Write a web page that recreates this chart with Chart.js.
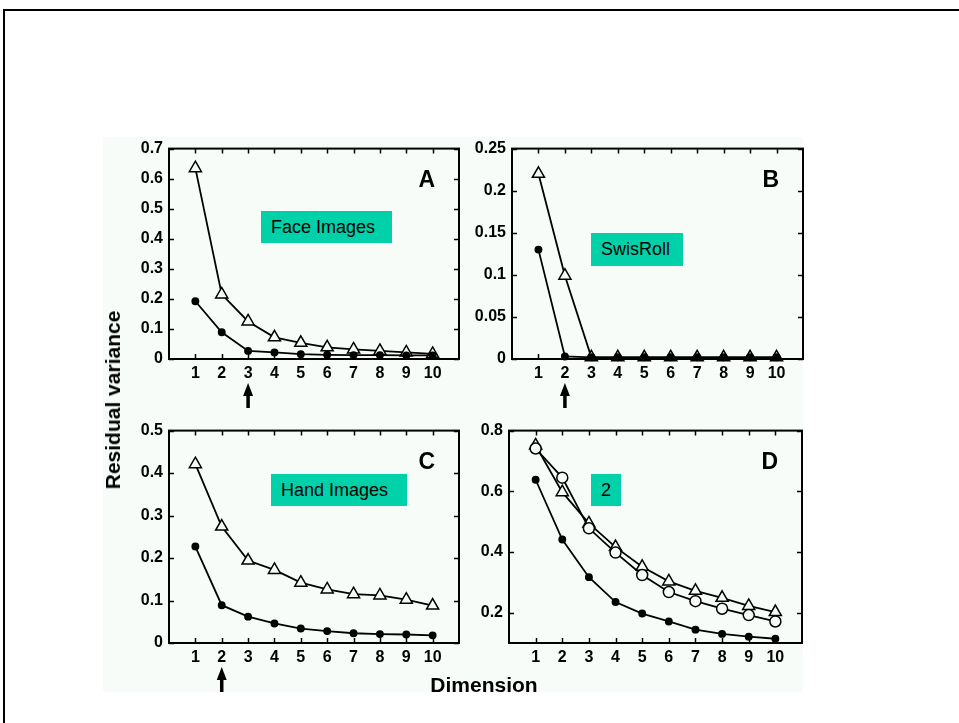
<!DOCTYPE html>
<html lang="en">
<head>
  <meta charset="UTF-8">
  <title>Residual variance vs dimension</title>
  <script src="https://cdn.jsdelivr.net/npm/chart.js"></script>
  <style>
    body { margin: 0; background: #fff; width: 959px; height: 723px; position: relative; overflow: hidden;
           font-family: "Liberation Sans", Arial, sans-serif; }
    .frame { position: absolute; left: 3px; top: 9px; width: 2000px; height: 2000px; border: 2px solid #000; }
    .paper { position: absolute; left: 103px; top: 137px; width: 700px; height: 555px; background: #f7fcf9; }
    .panel { position: absolute; }
    .tag { position: absolute; background: #00d1a9; color: #000; font-size: 18px;
           line-height: 32px; padding-left: 10px; box-sizing: border-box; white-space: nowrap; }
    .ytitle { position: absolute; left: 113px; top: 400px; font-weight: bold; font-size: 21px;
              transform: translate(-50%, -50%) rotate(-90deg); white-space: nowrap; }
    .xtitle { position: absolute; left: 484px; top: 685px; font-weight: bold; font-size: 21px;
              transform: translate(-50%, -50%); white-space: nowrap; }
  </style>
</head>
<body>
<div class="frame"></div>
<div class="paper"></div>
<canvas class="panel" id="panelA"></canvas>
<canvas class="panel" id="panelB"></canvas>
<canvas class="panel" id="panelC"></canvas>
<canvas class="panel" id="panelD"></canvas>
<div class="tag" style="left:261px;top:211px;width:131px;height:32px;">Face Images</div>
<div class="tag" style="left:591px;top:233px;width:92px;height:33px;">SwisRoll</div>
<div class="tag" style="left:271px;top:474px;width:136px;height:32px;">Hand Images</div>
<div class="tag" style="left:591px;top:474px;width:30px;height:32px;">2</div>
<div class="ytitle">Residual variance</div>
<div class="xtitle">Dimension</div>
<script>
  // dimension (x) and the residual variance curves
  const dims = [1, 2, 3, 4, 5, 6, 7, 8, 9, 10];

  const facePca    = [0.635, 0.215, 0.125, 0.072, 0.054, 0.039, 0.032, 0.027, 0.022, 0.017];
  const faceIsomap = [0.192, 0.089, 0.027, 0.022, 0.016, 0.014, 0.013, 0.013, 0.012, 0.012];

  const swissPca    = [0.220, 0.099, 0.002, 0.002, 0.002, 0.002, 0.002, 0.002, 0.002, 0.002];
  const swissIsomap = [0.130, 0.003, 0.002, 0.002, 0.002, 0.002, 0.002, 0.002, 0.002, 0.002];

  const handPca    = [0.421, 0.274, 0.194, 0.172, 0.142, 0.126, 0.115, 0.112, 0.102, 0.088];
  const handIsomap = [0.227, 0.089, 0.062, 0.046, 0.034, 0.028, 0.023, 0.021, 0.020, 0.018];

  const digitPca    = [0.751, 0.597, 0.494, 0.416, 0.351, 0.303, 0.272, 0.249, 0.222, 0.202];
  const digitMds    = [0.741, 0.645, 0.478, 0.398, 0.324, 0.268, 0.238, 0.213, 0.192, 0.171];
  const digitIsomap = [0.638, 0.441, 0.317, 0.235, 0.197, 0.171, 0.144, 0.130, 0.121, 0.114];

  // y tick labels per panel
  const yTicksA = [0, 0.1, 0.2, 0.3, 0.4, 0.5, 0.6, 0.7];
  const yTicksB = [0, 0.05, 0.1, 0.15, 0.2, 0.25];
  const yTicksC = [0, 0.1, 0.2, 0.3, 0.4, 0.5];
  const yTicksD = [0.2, 0.4, 0.6, 0.8];

  const paperColor = '#f7fcf9';
  const tickFont = { family: '"Liberation Sans", Arial, sans-serif', size: 16, weight: 'bold' };

  // box, inward ticks, panel letter and the arrow under the chosen dimension
  const panelDecor = {
    id: 'panelDecor',
    afterDraw(chart, args, opts) {
      const ctx = chart.ctx;
      const a = chart.chartArea;
      const xs = chart.scales.x, ys = chart.scales.y;
      ctx.save();
      ctx.strokeStyle = '#000';
      ctx.lineWidth = 2;
      ctx.strokeRect(a.left, a.top, a.right - a.left, a.bottom - a.top);
      ctx.lineWidth = 1.5;
      ctx.beginPath();
      xs.ticks.forEach(t => {
        const px = Math.round(xs.getPixelForValue(t.value)) + 0.5;
        ctx.moveTo(px, a.bottom); ctx.lineTo(px, a.bottom - 5);
        ctx.moveTo(px, a.top); ctx.lineTo(px, a.top + 5);
      });
      ys.ticks.forEach(t => {
        const py = Math.round(ys.getPixelForValue(t.value)) + 0.5;
        ctx.moveTo(a.left, py); ctx.lineTo(a.left + 5, py);
        ctx.moveTo(a.right, py); ctx.lineTo(a.right - 5, py);
      });
      ctx.stroke();

      ctx.fillStyle = '#000';
      ctx.font = 'bold 23px "Liberation Sans", Arial, sans-serif';
      ctx.textAlign = 'right';
      ctx.textBaseline = 'middle';
      ctx.fillText(opts.letter, a.right - 24, a.top + 32);

      if (opts.arrowAt) {
        const ax = xs.getPixelForValue(opts.arrowAt);
        const top = a.bottom + 24;
        ctx.beginPath();
        ctx.moveTo(ax, top);
        ctx.lineTo(ax - 5, top + 13);
        ctx.lineTo(ax + 5, top + 13);
        ctx.closePath();
        ctx.fill();
        ctx.fillRect(ax - 1.75, top + 10, 3.5, 15);
      }
      ctx.restore();
    }
  };

  function series(values, style) {
    const open = style !== 'dot';
    return {
      data: dims.map((d, i) => ({ x: d, y: values[i] })),
      borderColor: '#000',
      borderWidth: 1.8,
      pointStyle: style === 'dot' ? 'circle' : style,
      pointRadius: style === 'triangle' ? 7 : (style === 'circle' ? 5.5 : 3.2),
      pointBorderWidth: 1.5,
      pointBorderColor: '#000',
      pointBackgroundColor: open ? paperColor : '#000',
      tension: 0,
      clip: false
    };
  }

  function makePanel(id, box, yMin, yMax, yTicks, datasets, letter, arrowAt) {
    const canvas = document.getElementById(id);
    const padTop = 10, padRight = 10, yWidth = 66, xHeight = 52;
    canvas.style.left = (box.left - yWidth) + 'px';
    canvas.style.top = (box.top - padTop) + 'px';
    canvas.width = box.right - box.left + yWidth + padRight;
    canvas.height = box.bottom - box.top + padTop + xHeight;

    new Chart(canvas.getContext('2d'), {
      type: 'line',
      data: { datasets: datasets },
      options: {
        responsive: false,
        animation: false,
        layout: { padding: { top: padTop, right: padRight, left: 0, bottom: 0 } },
        plugins: { legend: { display: false }, tooltip: { enabled: false }, panelDecor: { letter: letter, arrowAt: arrowAt } },
        scales: {
          x: {
            type: 'linear', min: 0, max: 11,
            afterBuildTicks: s => { s.ticks = dims.map(v => ({ value: v })); },
            afterFit: s => { s.height = xHeight; },
            ticks: { color: '#000', font: tickFont, padding: 5, maxRotation: 0, autoSkip: false },
            grid: { display: false, drawTicks: false },
            border: { display: false }
          },
          y: {
            type: 'linear', min: yMin, max: yMax,
            afterBuildTicks: s => { s.ticks = yTicks.map(v => ({ value: v })); },
            afterFit: s => { s.width = yWidth; },
            ticks: { color: '#000', font: tickFont, padding: 6, callback: v => String(Math.round(v * 100) / 100) },
            grid: { display: false, drawTicks: false },
            border: { display: false }
          }
        }
      },
      plugins: [panelDecor]
    });
  }

  makePanel('panelA', { left: 169, top: 143, right: 459, bottom: 359 }, 0, 0.7, yTicksA,
    [series(faceIsomap, 'dot'), series(facePca, 'triangle')], 'A', 3);
  makePanel('panelB', { left: 512, top: 143, right: 803, bottom: 359 }, 0, 0.25, yTicksB,
    [series(swissIsomap, 'dot'), series(swissPca, 'triangle')], 'B', 2);
  makePanel('panelC', { left: 169, top: 425, right: 459, bottom: 643 }, 0, 0.5, yTicksC,
    [series(handIsomap, 'dot'), series(handPca, 'triangle')], 'C', 2);
  makePanel('panelD', { left: 509, top: 425, right: 802, bottom: 643 }, 0.1, 0.8, yTicksD,
    [series(digitIsomap, 'dot'), series(digitMds, 'circle'), series(digitPca, 'triangle')], 'D', null);
</script>
</body>
</html>
